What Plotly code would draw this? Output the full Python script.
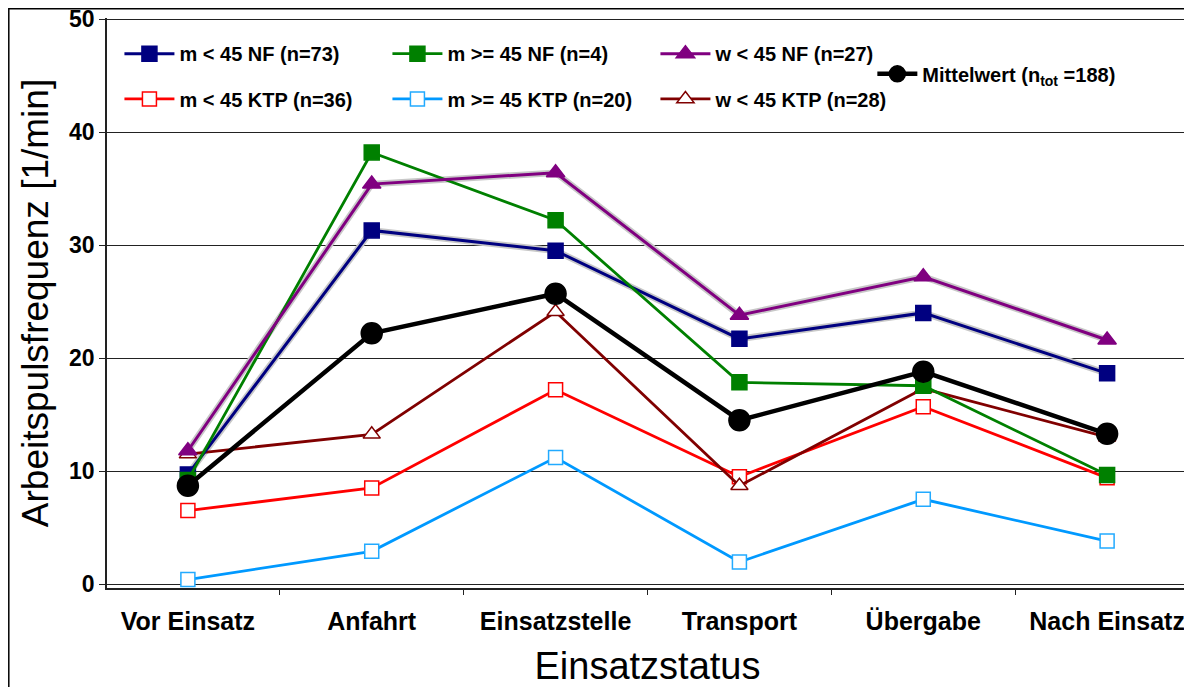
import plotly.graph_objects as go

categories = ["Vor Einsatz", "Anfahrt", "Einsatzstelle", "Transport", "Übergabe", "Nach Einsatz"]

m_lt45_nf = [9.7, 31.3, 29.5, 21.7, 24.0, 18.65]
m_ge45_nf = [9.2, 38.2, 32.2, 17.85, 17.55, 9.65]
w_lt45_nf = [11.8, 35.4, 36.4, 23.8, 27.2, 21.6]
m_lt45_ktp = [6.5, 8.5, 17.2, 9.5, 15.7, 9.4]
m_ge45_ktp = [0.4, 2.9, 11.2, 1.95, 7.5, 3.8]
w_lt45_ktp = [11.5, 13.25, 24.1, 8.7, 17.3, 13.0]
mittelwert = [8.7, 22.2, 25.7, 14.5, 18.8, 13.3]

names = {
    "m_lt45_nf": "m < 45 NF (n=73)",
    "m_ge45_nf": "m >= 45 NF (n=4)",
    "w_lt45_nf": "w < 45 NF (n=27)",
    "m_lt45_ktp": "m < 45 KTP (n=36)",
    "m_ge45_ktp": "m >= 45 KTP (n=20)",
    "w_lt45_ktp": "w < 45 KTP (n=28)",
    "mittel": "Mittelwert (n<sub>tot</sub> =188)",
}

FONT = "Liberation Sans, Arial, sans-serif"
fig = go.Figure()

# soft shadows under some lines
for vals in (m_lt45_nf, w_lt45_nf):
    fig.add_trace(go.Scatter(x=categories, y=vals, mode="lines",
                             line=dict(color="#c8c8c8", width=6.5),
                             showlegend=False, hoverinfo="skip"))

def add(vals, name, color, symbol, fill, lw, size, legend, rank, mcolor=None):
    fig.add_trace(go.Scatter(
        x=categories, y=vals, name=name, mode="lines+markers",
        line=dict(color=color, width=lw),
        marker=dict(symbol=symbol, size=size, color=fill,
                    line=dict(color=mcolor or color, width=1.5)),
        legend=legend, legendrank=rank))

add(m_lt45_ktp, names["m_lt45_ktp"], "#ff0000", "square", "white", 2.8, 14, "legend2", 1)
add(m_ge45_ktp, names["m_ge45_ktp"], "#0099ff", "square", "white", 2.8, 14, "legend2", 2, mcolor="#22aaff")
add(w_lt45_ktp, names["w_lt45_ktp"], "#800000", "triangle-up", "white", 2.8, 15, "legend2", 3)
add(m_lt45_nf, names["m_lt45_nf"], "#000080", "square", "#000080", 3, 15, "legend", 1)
add(m_ge45_nf, names["m_ge45_nf"], "#008000", "square", "#008000", 2.8, 15, "legend", 2)
add(w_lt45_nf, names["w_lt45_nf"], "#800080", "triangle-up", "#800080", 3, 16, "legend", 3)
add(mittelwert, names["mittel"], "#000000", "circle", "#000000", 4.5, 21, "legend3", 1)

legend_font = dict(family=FONT, size=20, color="black", weight="bold")
common = dict(orientation="h", entrywidth=203, entrywidthmode="pixels",
              font=legend_font, bgcolor="rgba(0,0,0,0)", xanchor="left",
              yanchor="middle", itemwidth=50)

# the page adds an 8px body margin; the figure is offset accordingly
W, H = 1184, 679
L, R, T, B = 99, 4, 10, 99
plot_w = W - L - R

fig.update_layout(
    width=W, height=H,
    margin=dict(l=L, r=R, t=T, b=B),
    plot_bgcolor="white", paper_bgcolor="white",
    font=dict(family=FONT, color="black"),
    legend=dict(x=0.0115, y=0.9375, **common),
    legend2=dict(x=0.0115, y=0.858, **common),
    legend3=dict(x=0.708, y=0.902, orientation="h", font=legend_font,
                 bgcolor="rgba(0,0,0,0)", xanchor="left", yanchor="middle", itemwidth=40),
    xaxis=dict(
        type="category", range=[-0.44, 5.44], automargin=False,
        showline=True, linecolor="#222", linewidth=2,
        ticks="outside", ticklen=5, tickcolor="#222", tickson="boundaries",
        showgrid=False, ticklabelstandoff=10, tickangle=0,
        tickfont=dict(family=FONT, size=25, weight="bold"),
        title=dict(text="Einsatzstatus", font=dict(family=FONT, size=38), standoff=18),
    ),
    yaxis=dict(
        range=[-0.35, 50.1], tickvals=[0, 10, 20, 30, 40, 50], automargin=False,
        showline=True, linecolor="#222", linewidth=1.5,
        ticks="outside", ticklen=6, tickcolor="#222", ticklabeloverflow="allow",
        showgrid=True, gridcolor="#222", gridwidth=1.2, zeroline=False,
        tickfont=dict(family=FONT, size=23, weight="bold"),
        title=dict(text="Arbeitspulsfrequenz [1/min]", font=dict(family=FONT, size=37), standoff=9),
    ),
    shapes=[dict(type="rect", xref="paper", yref="paper",
                 x0=(0.8 - L) / plot_w, x1=1.1, y0=-0.3, y1=1 + (T - 0.8) / (H - T - B),
                 line=dict(color="black", width=1.5))],
)

fig.write_html("out.html")
